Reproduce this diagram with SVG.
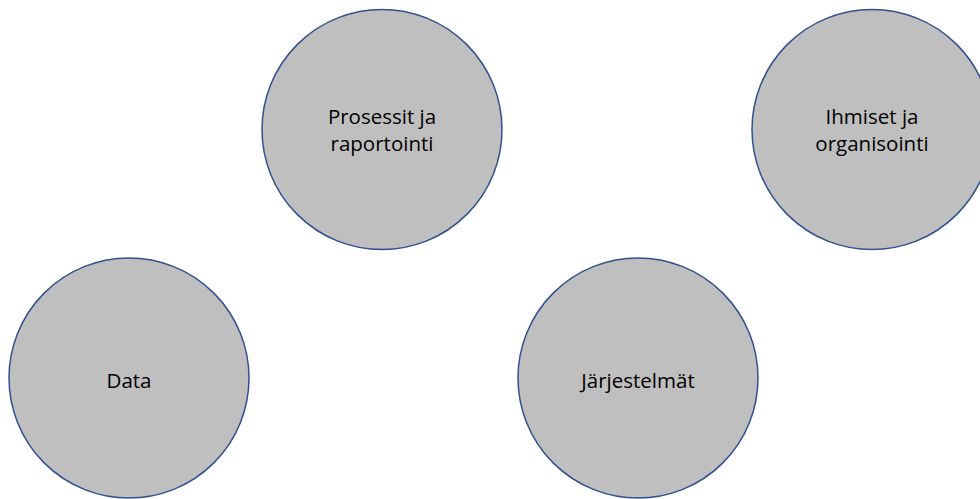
<svg xmlns="http://www.w3.org/2000/svg" width="980" height="499" viewBox="0 0 980 499">
<style>
.n{fill:#BFBFBF;stroke:#2F528F;stroke-width:1.5}
.t{font-family:"Open Sans","Noto Sans","Liberation Sans",sans-serif;font-size:20.5px;fill:#000;text-anchor:middle}
</style>
<rect width="980" height="499" fill="#fff"/>
<g id="connectors"></g>
<g id="prosessit">
<circle class="n" cx="382" cy="129.5" r="120"/>
<text class="t" x="382" y="124">Prosessit ja</text>
<text class="t" x="382" y="151">raportointi</text>
</g>
<g id="ihmiset">
<circle class="n" cx="872" cy="129.5" r="120"/>
<text class="t" x="872" y="124">Ihmiset ja</text>
<text class="t" x="872" y="151">organisointi</text>
</g>
<g id="data">
<circle class="n" cx="129" cy="378" r="120"/>
<text class="t" x="129" y="388">Data</text>
</g>
<g id="jarjestelmat">
<circle class="n" cx="638" cy="378" r="120"/>
<text class="t" x="638" y="388">Järjestelmät</text>
</g>
</svg>
